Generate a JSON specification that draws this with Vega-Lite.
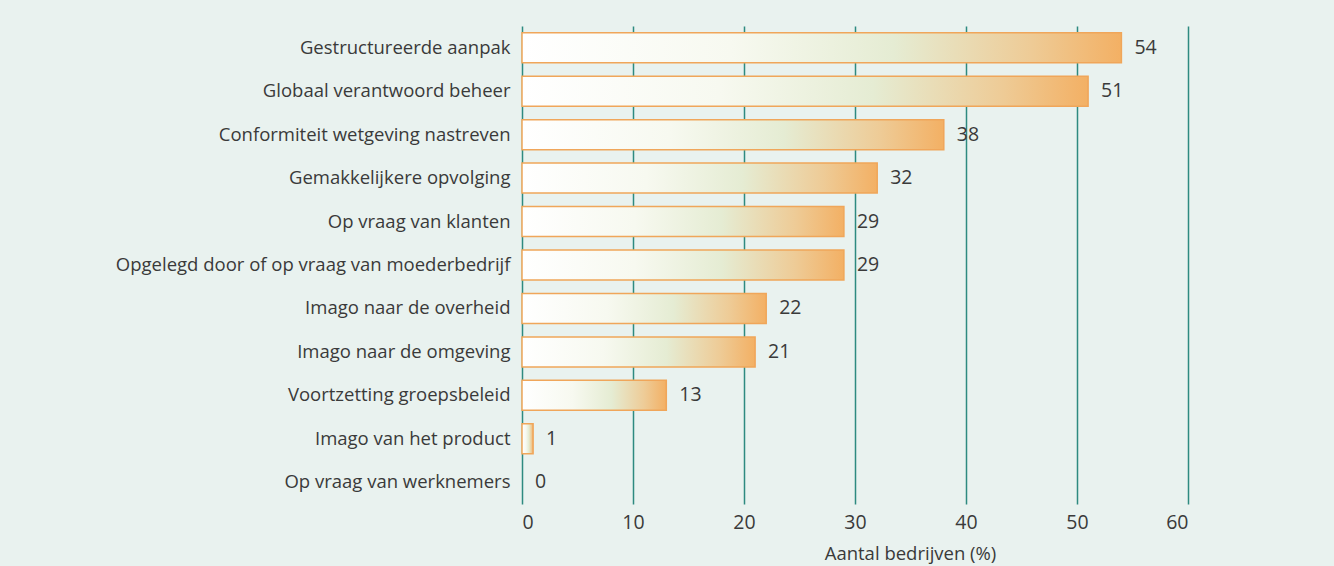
{
  "$schema": "https://vega.github.io/schema/vega-lite/v6.json",
  "autosize": "none",
  "width": 666,
  "height": 478,
  "padding": {"left": 522, "top": 26, "right": 146, "bottom": 62},
  "background": "#e9f2ef",
  "config": {
    "view": {"stroke": null},
    "font": "Open Sans",
    "text": {"font": "Open Sans"}
  },
  "data": {
    "values": [
      {"reden": "Gestructureerde aanpak", "pct": 54},
      {"reden": "Globaal verantwoord beheer", "pct": 51},
      {"reden": "Conformiteit wetgeving nastreven", "pct": 38},
      {"reden": "Gemakkelijkere opvolging", "pct": 32},
      {"reden": "Op vraag van klanten", "pct": 29},
      {"reden": "Opgelegd door of op vraag van moederbedrijf", "pct": 29},
      {"reden": "Imago naar de overheid", "pct": 22},
      {"reden": "Imago naar de omgeving", "pct": 21},
      {"reden": "Voortzetting groepsbeleid", "pct": 13},
      {"reden": "Imago van het product", "pct": 1},
      {"reden": "Op vraag van werknemers", "pct": 0}
    ]
  },
  "encoding": {
    "y": {
      "field": "reden",
      "type": "nominal",
      "sort": null,
      "scale": {"paddingInner": 0.31, "paddingOuter": 0.155},
      "axis": {
        "title": null,
        "domain": false,
        "ticks": false,
        "labelPadding": 12,
        "labelFontSize": 18.5,
        "labelColor": "#3a3a3a",
        "labelFont": "Open Sans",
        "labelLimit": 500
      }
    },
    "x": {
      "field": "pct",
      "type": "quantitative",
      "scale": {"domain": [0, 60], "nice": false},
      "axis": {
        "title": "Aantal bedrijven (%)",
        "values": [0, 10, 20, 30, 40, 50, 60],
        "grid": true,
        "gridColor": "#2e8a80",
        "gridWidth": 1.5,
        "gridOpacity": 1,
        "domain": false,
        "ticks": false,
        "labelPadding": 9,
        "labelFontSize": 19.5,
        "labelColor": "#3a3a3a",
        "labelFont": "Open Sans",
        "titleFont": "Open Sans",
        "titleFontSize": 18.5,
        "titleFontWeight": "normal",
        "titleColor": "#3a3a3a",
        "titleX": 388,
        "titleY": 49,
        "titleBaseline": "middle",
        "titleAlign": "center"
      }
    }
  },
  "layer": [
    {
      "mark": {
        "type": "bar",
        "stroke": "#f0a65a",
        "strokeWidth": 1.5,
        "fill": {
          "gradient": "linear",
          "x1": 0, "y1": 0, "x2": 1, "y2": 0,
          "stops": [
            {"offset": 0, "color": "#ffffff"},
            {"offset": 0.35, "color": "#f7f9f0"},
            {"offset": 0.62, "color": "#e5ecd3"},
            {"offset": 0.85, "color": "#eecb96"},
            {"offset": 1, "color": "#f3b064"}
          ]
        }
      },
      "encoding": {
        "strokeOpacity": {"condition": {"test": "datum.pct === 0", "value": 0}, "value": 1}
      }
    },
    {
      "mark": {
        "type": "text",
        "align": "left",
        "baseline": "middle",
        "dx": 13,
        "fontSize": 19.5,
        "color": "#3a3a3a",
        "font": "Open Sans"
      },
      "encoding": {"text": {"field": "pct", "type": "quantitative"}}
    }
  ]
}
